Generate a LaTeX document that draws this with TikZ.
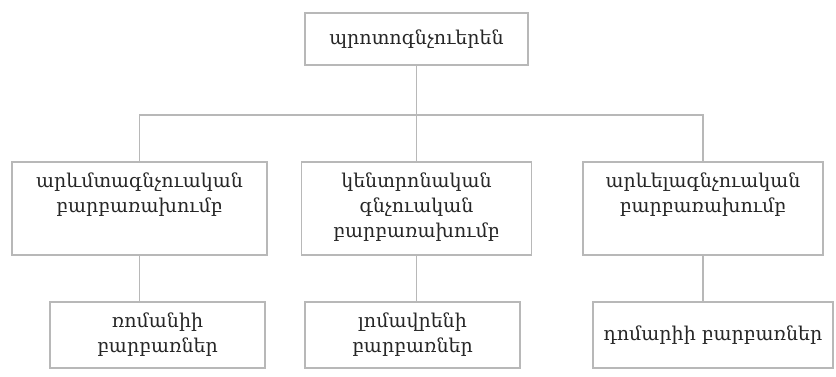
\documentclass[tikz,border=0pt]{standalone}
\usepackage{fontspec}
\usepackage{tikz}
\usetikzlibrary{positioning, calc}
\newfontfamily\armfont{DejaVu Serif}

% text of a dialect group, always set from the top of a three-line block
\newcommand{\grouptext}[1]{\parbox[c][72pt][t]{220pt}{\centering #1}}

\tikzset{
    box/.style={draw=black!28, line width=1.8pt, fill=white, align=center, inner sep=0pt,
        font=\armfont\fontsize{19}{25}\selectfont, text=black!85},
    link/.style={draw=black!28, line width=1.8pt}
}

\begin{document}
\begin{tikzpicture}[x=1pt, y=1pt]
\useasboundingbox[fill=white] (0,0) rectangle (836,377);

% Root language
\node[box, minimum width=223pt, minimum height=52pt] (proto) at (416.5, 338) {պրոտոգնչուերեն};

% Dialect groups
\node[box, minimum width=255pt, minimum height=93pt] (west) at (139.5, 168.5) {\grouptext{արևմտագնչուական\\բարբառախումբ}};
\node[box, minimum width=230pt, minimum height=93pt] (centre) at (416.5, 168.5) {\grouptext{կենտրոնական\\գնչուական\\բարբառախումբ}};
\node[box, minimum width=240pt, minimum height=93pt] (east) at (703, 168.5) {\grouptext{արևելագնչուական\\բարբառախումբ}};

% Dialects
\node[box, minimum width=215pt, minimum height=66pt] (romani) at (157.5, 42) {ռոմանիի\\բարբառներ};
\node[box, minimum width=215pt, minimum height=66pt] (lomavren) at (412.5, 42) {լոմավրենի\\բարբառներ};
\node[box, minimum width=240pt, minimum height=66pt] (domari) at (713, 42) {դոմարիի բարբառներ};

% Connectors
\coordinate (split) at (416.5, 262);
\draw[link] (proto.south) -- (centre.north);
\draw[link] (west.north) -- (west.north |- split) -- (east.north |- split) -- (east.north);
\draw[link] (west.south) -- (west.south |- romani.north);
\draw[link] (centre.south) -- (centre.south |- lomavren.north);
\draw[link] (east.south) -- (east.south |- domari.north);

\end{tikzpicture}
\end{document}
